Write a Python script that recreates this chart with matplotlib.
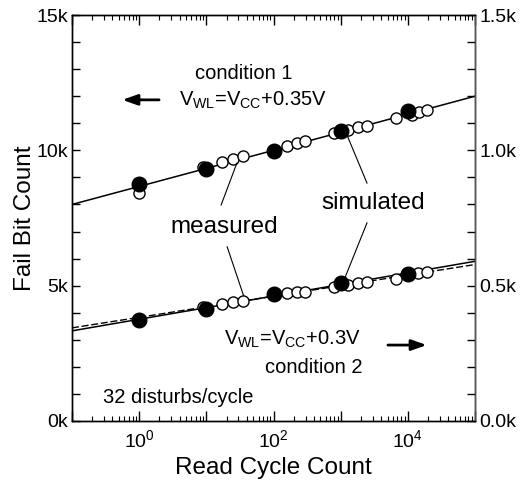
import matplotlib
matplotlib.use("Agg")
import matplotlib.pyplot as plt
from matplotlib.ticker import FixedLocator, LogLocator, NullFormatter, FuncFormatter
import numpy as np

plt.rcParams['font.family'] = ['Liberation Sans', 'DejaVu Sans']
plt.rcParams['mathtext.fontset'] = 'custom'
plt.rcParams['mathtext.rm'] = 'Liberation Sans'
plt.rcParams['mathtext.it'] = 'Liberation Sans:italic'

# condition 1 (left axis, fail bits)
sim_x = [1, 10, 100, 1000, 10000]
cond1_sim = [8760, 9310, 9970, 10710, 11450]
cond1_meas_x = [1, 9, 17, 25, 35, 160, 220, 290, 790, 1300, 1800, 2450, 6600, 11500, 14500, 19000]
cond1_meas = [8420, 9380, 9570, 9680, 9790, 10160, 10270, 10340, 10640, 10750, 10860, 10900,
              11190, 11300, 11400, 11490]

# condition 2 (right axis, fail bits)
cond2_sim = [373, 414, 469, 510, 543]
cond2_meas_x = [9, 17, 25, 35, 160, 220, 290, 790, 1300, 1800, 2450, 6600, 14000, 19000]
cond2_meas = [421, 432, 440, 443, 473, 477, 478, 495, 502, 510, 513, 524, 547, 550]

# fitted lines
fit_x = [0.1, 1e5]
cond1_fit = [8000, 12000]
cond2_fit_solid = [333, 590]
cond2_fit_dash = [344, 578]

fig = plt.figure(figsize=(5.28, 4.84), dpi=100)
ax = fig.add_axes([0.1364, 0.1302, 0.7632, 0.8388])
ax2 = ax.twinx()

ax.set_xscale('log')
ax.set_xlim(0.1, 1e5)
ax.set_ylim(0, 15000)
ax2.set_ylim(0, 1500)

# condition 1
ax.plot(fit_x, cond1_fit, color='black', lw=1.1, zorder=2)
ax.plot(cond1_meas_x, cond1_meas, 'o', ms=8, mfc='white', mec='black', mew=1.0, zorder=3)
ax.plot(sim_x, cond1_sim, 'o', ms=10.5, color='black', zorder=4)

# condition 2
ax2.plot(fit_x, cond2_fit_solid, color='black', lw=1.1, zorder=2)
ax2.plot(fit_x, cond2_fit_dash, color='black', lw=1.0, ls=(0, (5, 2)), zorder=2)
ax2.plot(cond2_meas_x, cond2_meas, 'o', ms=8, mfc='white', mec='black', mew=1.0, zorder=3)
ax2.plot(sim_x, cond2_sim, 'o', ms=10.5, color='black', zorder=4)

# ticks
ax.xaxis.set_major_locator(FixedLocator([1e-1, 1, 10, 100, 1e3, 1e4, 1e5]))
ax.xaxis.set_minor_locator(LogLocator(base=10, subs=np.arange(2, 10), numticks=20))
ax.xaxis.set_minor_formatter(NullFormatter())
ax.xaxis.set_major_formatter(FuncFormatter(
    lambda v, p: r'$10^{%d}$' % round(np.log10(v)) if round(np.log10(v)) in (0, 2, 4) else ''))
ax.tick_params(axis='x', which='major', direction='in', length=7, top=True, width=1,
               labelsize=14, pad=6)
ax.tick_params(axis='x', which='minor', direction='in', length=3.5, top=True, width=0.8)

ax.yaxis.set_major_locator(FixedLocator([0, 5000, 10000, 15000]))
ax.yaxis.set_minor_locator(FixedLocator(np.arange(0, 15001, 1000)))
ax.yaxis.set_major_formatter(FuncFormatter(lambda v, p: '%dk' % round(v / 1000)))
ax.tick_params(axis='y', which='both', direction='in', length=6, width=1, labelsize=14, pad=3,
               right=False)

ax2.yaxis.set_major_locator(FixedLocator([0, 500, 1000, 1500]))
ax2.yaxis.set_minor_locator(FixedLocator(np.arange(0, 1501, 100)))
ax2.yaxis.set_major_formatter(FuncFormatter(lambda v, p: '%.1fk' % (v / 1000)))
ax2.tick_params(axis='y', which='both', direction='in', length=6, width=1, labelsize=14, pad=3)

for a in (ax, ax2):
    for s in a.spines.values():
        s.set_linewidth(1.0)
ax2.spines['right'].set_color('#555555')

ax.set_xlabel('Read Cycle Count', fontsize=17.5, labelpad=4)
ax.set_ylabel('Fail Bit Count', fontsize=17.5, labelpad=0)

# annotations
fs = 14.5
ax.text(0.427, 0.857, 'condition 1', transform=ax.transAxes, ha='center', va='center', fontsize=fs)
ax.text(0.449, 0.791, r'V$_{\mathrm{WL}}$=V$_{\mathrm{CC}}$+0.35V', transform=ax.transAxes,
        ha='center', va='center', fontsize=fs)
ax.annotate('', xy=(0.118, 0.791), xytext=(0.223, 0.791), xycoords='axes fraction',
            arrowprops=dict(arrowstyle='-|>,head_length=0.9,head_width=0.32', color='black', lw=2))

ax.text(0.546, 0.2, r'V$_{\mathrm{WL}}$=V$_{\mathrm{CC}}$+0.3V', transform=ax.transAxes,
        ha='center', va='center', fontsize=fs)
ax.text(0.600, 0.131, 'condition 2', transform=ax.transAxes, ha='center', va='center', fontsize=fs)
ax.annotate('', xy=(0.887, 0.187), xytext=(0.777, 0.187), xycoords='axes fraction',
            arrowprops=dict(arrowstyle='-|>,head_length=0.9,head_width=0.32', color='black', lw=2))

ax.text(0.263, 0.059, '32 disturbs/cycle', transform=ax.transAxes, ha='center', va='center',
        fontsize=fs)

ax.text(0.377, 0.478, 'measured', transform=ax.transAxes, ha='center', va='center', fontsize=17.5)
ax.text(0.747, 0.537, 'simulated', transform=ax.transAxes, ha='center', va='center', fontsize=17.5)

pointers = [((0.370, 0.532), (0.409, 0.635)),
            ((0.385, 0.429), (0.427, 0.305)),
            ((0.732, 0.586), (0.677, 0.717)),
            ((0.732, 0.488), (0.677, 0.352))]
for (x0, y0), (x1, y1) in pointers:
    ax.plot([x0, x1], [y0, y1], color='black', lw=0.8, transform=ax.transAxes, zorder=5)

fig.savefig('out.png', dpi=100)
